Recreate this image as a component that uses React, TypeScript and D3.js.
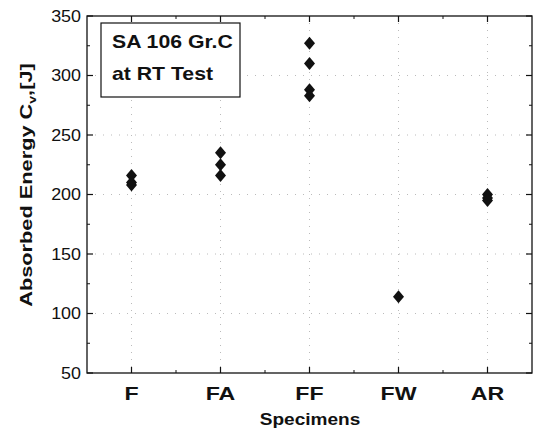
import React from "react";
import * as d3 from "d3";

const categories = ["F", "FA", "FF", "FW", "AR"];
const seriesF = [216, 210, 208];
const seriesFA = [235, 225, 216];
const seriesFF = [327, 310, 288, 283];
const seriesFW = [114];
const seriesAR = [200, 197, 195];
const yTicks = [50, 100, 150, 200, 250, 300, 350];
const yMinorTicks = [75, 125, 175, 225, 275, 325];
const xMinorTicks = [1.5, 2.5, 3.5, 4.5];
const annotation = ["SA 106 Gr.C", "at RT Test"];

const W = 537, H = 432;
const left = 87, right = 532, top = 16, bottom = 373;

export default function App() {
  const x = d3.scaleLinear().domain([0.5, 5.5]).range([left, right]);
  const y = d3.scaleLinear().domain([50, 350]).range([bottom, top]);
  const groups = [seriesF, seriesFA, seriesFF, seriesFW, seriesAR];
  const pts: { cx: number; cy: number }[] = [];
  groups.forEach((g, i) => g.forEach(v => pts.push({ cx: x(i + 1), cy: y(v) })));
  const font = "Arial, 'Liberation Sans', sans-serif";
  const dx = 5.5, dy = 6.5;
  return (
    <svg width={W} height={H} style={{ position: "absolute", left: 0, top: 0, background: "#fff" }}>
      {/* grid */}
      {yTicks.slice(1, -1).map(t => (
        <line key={"gy" + t} x1={left} x2={right} y1={y(t)} y2={y(t)} stroke="#aaa" strokeWidth={0.8} strokeDasharray="1,7" />
      ))}
      {categories.map((c, i) => (
        <line key={"gx" + c} x1={x(i + 1)} x2={x(i + 1)} y1={top} y2={bottom} stroke="#aaa" strokeWidth={0.8} strokeDasharray="1,6" />
      ))}
      {/* frame */}
      <rect x={left} y={top} width={right - left} height={bottom - top} fill="none" stroke="#111" strokeWidth={1.3} />
      {/* y ticks */}
      {yTicks.map(t => (
        <g key={"yt" + t}>
          <line x1={left} x2={left + 6} y1={y(t)} y2={y(t)} stroke="#111" strokeWidth={1.2} />
          <line x1={right} x2={right - 6} y1={y(t)} y2={y(t)} stroke="#111" strokeWidth={1.2} />
          <text transform={`translate(${left - 6},${y(t)}) scale(1.12,1)`} dy="0.36em" textAnchor="end" fontFamily={font} fontSize={16} fill="#111">{t}</text>
        </g>
      ))}
      {yMinorTicks.map(t => (
        <g key={"ym" + t}>
          <line x1={left} x2={left + 3} y1={y(t)} y2={y(t)} stroke="#111" strokeWidth={1} />
          <line x1={right} x2={right - 3} y1={y(t)} y2={y(t)} stroke="#111" strokeWidth={1} />
        </g>
      ))}
      {/* x ticks */}
      {categories.map((c, i) => (
        <g key={"xt" + c}>
          <line x1={x(i + 1)} x2={x(i + 1)} y1={bottom} y2={bottom - 6} stroke="#111" strokeWidth={1.2} />
          <line x1={x(i + 1)} x2={x(i + 1)} y1={top} y2={top + 6} stroke="#111" strokeWidth={1.2} />
          <text transform={`translate(${x(i + 1)},400) scale(1.22,1)`} textAnchor="middle" fontFamily={font} fontWeight="bold" fontSize={19} fill="#111">{c}</text>
        </g>
      ))}
      {xMinorTicks.map(t => (
        <g key={"xm" + t}>
          <line x1={x(t)} x2={x(t)} y1={bottom} y2={bottom - 3} stroke="#111" strokeWidth={1} />
          <line x1={x(t)} x2={x(t)} y1={top} y2={top + 3} stroke="#111" strokeWidth={1} />
        </g>
      ))}
      {/* points */}
      {pts.map((p, i) => (
        <path key={"p" + i} d={`M${p.cx},${p.cy - dy}L${p.cx + dx},${p.cy}L${p.cx},${p.cy + dy}L${p.cx - dx},${p.cy}Z`} fill="#111" />
      ))}
      {/* annotation box */}
      <rect x={101} y={23} width={139} height={74} fill="#fff" stroke="#111" strokeWidth={1.2} />
      {annotation.map((a, i) => (
        <text key={"a" + i} transform={`translate(112,${48 + i * 32}) scale(1.18,1)`} fontFamily={font} fontWeight="bold" fontSize={18} fill="#111">{a}</text>
      ))}
      {/* axis titles */}
      <text transform="translate(310,425) scale(1.19,1)" textAnchor="middle" fontFamily={font} fontWeight="bold" fontSize={16} fill="#111">Specimens</text>
      <text transform={`translate(32,185) rotate(-90) scale(1.28,1)`} textAnchor="middle" fontFamily={font} fontWeight="bold" fontSize={17} fill="#111">
        Absorbed Energy C<tspan fontSize={11} dy={4}>v</tspan><tspan dy={-4}>,[J]</tspan>
      </text>
    </svg>
  );
}
